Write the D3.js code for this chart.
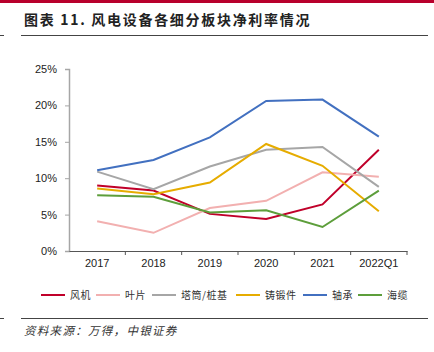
<!DOCTYPE html>
<html>
<head>
<meta charset="utf-8">
<script src="https://cdn.jsdelivr.net/npm/d3@7"></script>
<style>
  body { margin: 0; background: #fff; }
  svg { display: block; }
</style>
</head>
<body>
<svg id="chart" width="434" height="352"></svg>
<script>
const categories = ["2017", "2018", "2019", "2020", "2021", "2022Q1"];
const seriesNames = ["风机", "叶片", "塔筒/桩基", "铸锻件", "轴承", "海缆"];
const fengji = [9.0, 8.3, 5.1, 4.4, 6.4, 13.9];
const yepian = [4.1, 2.5, 5.9, 6.9, 10.8, 10.2];
const tatong = [10.9, 8.5, 11.6, 13.9, 14.3, 8.8];
const zhuduan = [8.6, 7.8, 9.4, 14.7, 11.7, 5.45];
const zhoucheng = [11.1, 12.5, 15.6, 20.6, 20.8, 15.7];
const hailan = [7.65, 7.45, 5.3, 5.6, 3.3, 8.3];
const yTicks = [0, 5, 10, 15, 20, 25];

const colors = ["#c0002a", "#f2b0b0", "#a6a6a6", "#e6ac00", "#4270c0", "#5d9e3b"];
const series = [fengji, yepian, tatong, zhuduan, zhoucheng, hailan];

const svg = d3.select("#chart");
const cjk = "'Noto Sans CJK SC', sans-serif";

// top red bar
svg.append("rect").attr("x", 0).attr("y", 0).attr("width", 434).attr("height", 3).attr("fill", "#b8002c");

// title
svg.append("text")
  .attr("x", 24).attr("y", 25)
  .style("font-family", cjk).style("font-size", "14px").style("font-weight", "bold")
  .style("letter-spacing", "1.7px")
  .attr("fill", "#222")
  .text("图表 11. 风电设备各细分板块净利率情况");

svg.append("line").attr("x1", 21).attr("x2", 428).attr("y1", 35.5).attr("y2", 35.5).attr("stroke", "#444");
svg.append("line").attr("x1", 0).attr("x2", 4).attr("y1", 35.5).attr("y2", 35.5).attr("stroke", "#444");

const x = d3.scaleBand().domain(categories).range([69, 407]);
const y = d3.scaleLinear().domain([0, 25]).range([251, 69]);

// y axis
const yAxis = svg.append("g")
  .attr("transform", "translate(69,0)")
  .call(d3.axisLeft(y).tickValues(yTicks).tickFormat(d => d + "%").tickSize(4).tickPadding(8));
yAxis.select(".domain").attr("stroke", "#a6a6a6").attr("stroke-width", 1.5);
yAxis.selectAll(".tick line").attr("stroke", "#a6a6a6");
yAxis.selectAll("text").style("font-family", "'Liberation Sans', Arial, sans-serif").style("font-size", "11px").attr("fill", "#222");

// x axis
const xAxis = svg.append("g")
  .attr("transform", "translate(0,251)")
  .call(d3.axisBottom(x).tickSize(0).tickPadding(8).tickSizeOuter(0));
xAxis.select(".domain").attr("stroke", "#555");
xAxis.selectAll("text").style("font-family", "'Liberation Sans', Arial, sans-serif").style("font-size", "11px").attr("fill", "#222");
// band boundary ticks
svg.append("g").selectAll("line")
  .data(categories.slice(1).concat(["end"]))
  .join("line")
  .attr("x1", (d, i) => i < categories.length - 1 ? x(d) : x.range()[1])
  .attr("x2", (d, i) => i < categories.length - 1 ? x(d) : x.range()[1])
  .attr("y1", 251).attr("y2", 255)
  .attr("stroke", "#555");

// lines
const line = d3.line()
  .x((d, i) => x(categories[i]) + x.bandwidth() / 2)
  .y(d => y(d));

svg.append("g").selectAll("path")
  .data(series)
  .join("path")
  .attr("d", d => line(d))
  .attr("fill", "none")
  .attr("stroke", (d, i) => colors[i])
  .attr("stroke-width", 2);

// legend
const legendX = [41, 96, 152, 236, 303, 358];
const legend = svg.append("g").selectAll("g")
  .data(seriesNames)
  .join("g")
  .attr("transform", (d, i) => "translate(" + legendX[i] + ",295)");
legend.append("line").attr("x1", 0).attr("x2", 24).attr("y1", 0).attr("y2", 0)
  .attr("stroke", (d, i) => colors[i]).attr("stroke-width", 2);
legend.append("text").attr("x", 29).attr("y", 3.5)
  .style("font-family", cjk).style("font-size", "10px").style("letter-spacing", "0.5px").attr("fill", "#333")
  .text(d => d);

// footer
svg.append("line").attr("x1", 21).attr("x2", 428).attr("y1", 318.5).attr("y2", 318.5).attr("stroke", "#444");
svg.append("line").attr("x1", 0).attr("x2", 4).attr("y1", 318.5).attr("y2", 318.5).attr("stroke", "#444");
svg.append("text")
  .attr("x", 24).attr("y", 335)
  .style("font-family", cjk).style("font-size", "11.5px").style("font-style", "italic")
  .style("letter-spacing", "1.3px")
  .attr("fill", "#333")
  .text("资料来源：万得，中银证券");
</script>
</body>
</html>
